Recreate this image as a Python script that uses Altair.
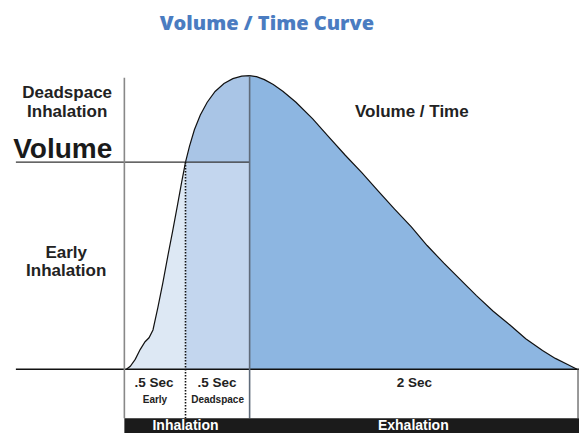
import altair as alt
import pandas as pd

# ---- curve (x position units, volume units) ----
early_x = [128, 132, 137, 142, 147, 151, 155, 160, 165, 170, 175, 180, 184, 188]
early_v = [0, 3, 10, 20, 28, 32, 40, 63, 88, 115, 141, 168, 190, 211]

dead_x = [188, 192, 197, 203, 210, 218, 227, 236, 245, 253]
dead_v = [211, 227, 244, 259, 272, 283, 291, 296, 298.5, 299]

exh_x = [253, 260, 268, 277, 287, 300, 317, 333, 350, 367, 383, 400, 417, 433,
         450, 467, 483, 500, 517, 533, 550, 563, 575, 585]
exh_v = [299, 298, 295, 290, 283, 272, 255, 237, 218, 200, 182, 163, 145, 126,
         108, 91, 75, 59, 45, 31, 19, 11, 5, 0]

deadspace_volume = 211
phase_bounds = [126, 188, 253, 586]   # start, end early, end deadspace, end exhalation

# ---- labels ----
left_labels = ["Deadspace", "Inhalation", "Early", "Inhalation"]
left_label_v = [276, 257, 113, 95]
sec_labels = [".5 Sec", ".5 Sec", "2 Sec"]
sec_x = [156, 220, 420]
sub_labels = ["Early", "Deadspace"]
sub_x = [157, 220.5]
phase_labels = ["Inhalation", "Exhalation"]
phase_x = [188, 419]

X = alt.Scale(domain=[8, 587], nice=False, zero=False)
Y = alt.Scale(domain=[-65, 368], nice=False, zero=False)


def xy(x="x", y="v"):
    return dict(x=alt.X(f"{x}:Q", scale=X, axis=None),
                y=alt.Y(f"{y}:Q", scale=Y, axis=None))


# fills
early_df = pd.DataFrame({"x": early_x, "v": early_v, "b": 0})
dead_df = pd.DataFrame({"x": dead_x, "v": dead_v, "b": deadspace_volume})
exh_df = pd.DataFrame({"x": exh_x, "v": exh_v, "b": 0})

early_area = alt.Chart(early_df).mark_area(color="#dde8f4").encode(**xy(), y2="b:Q")
dead_rect_df = pd.DataFrame({"x": [phase_bounds[1]], "x2": [phase_bounds[2]],
                             "v": [0], "v2": [deadspace_volume]})
dead_rect = alt.Chart(dead_rect_df).mark_rect(color="#c3d6ee").encode(
    **xy(), x2="x2:Q", y2="v2:Q")
dead_area = alt.Chart(dead_df).mark_area(color="#a9c5e6").encode(**xy(), y2="b:Q")
exh_area = alt.Chart(exh_df).mark_area(color="#8db6e1").encode(**xy(), y2="b:Q")

curve_df = pd.DataFrame({"x": early_x + dead_x[1:] + exh_x[1:],
                         "v": early_v + dead_v[1:] + exh_v[1:]})
curve = alt.Chart(curve_df).mark_line(color="#111", strokeWidth=1.2).encode(**xy())


def seg(rows, **style):
    df = pd.DataFrame(rows, columns=["x", "x2", "v", "v2"])
    return alt.Chart(df).mark_rule(**style).encode(**xy(), x2="x2:Q", y2="v2:Q")


baseline = seg([[16, 587, 0, 0]], color="#111", strokeWidth=1.5)
vol_line = seg([[16, 253, deadspace_volume, deadspace_volume]], color="#333", strokeWidth=1.2)
left_v = seg([[126, 126, 297, -50]], color="#888", strokeWidth=1.6)
mid_v = seg([[253, 253, 299, -50]], color="#5f6b7a", strokeWidth=1.6)
right_v = seg([[586, 586, 0, -50]], color="#555", strokeWidth=1.2)
dotted = seg([[188, 188, deadspace_volume, -50]], color="#111", strokeWidth=1.6,
             strokeDash=[1.5, 1.5])

bar_df = pd.DataFrame({"x": [126], "x2": [587], "v": [-50], "v2": [-66]})
bar = alt.Chart(bar_df).mark_rect(color="#1b1b1b").encode(**xy(), x2="x2:Q", y2="v2:Q")


def txt(df, **style):
    base = dict(font="Liberation Sans", fontWeight="bold", baseline="alphabetic",
                align="center")
    base.update(style)
    return alt.Chart(df).mark_text(**base).encode(**xy(), text="t:N")


title = txt(pd.DataFrame({"x": [270.5], "v": [346], "t": ["Volume / Time Curve"]}),
            font="Open Sans", fontWeight=800, fontSize=20, color="#4a7cc1")
left_txt = txt(pd.DataFrame({"x": [68, 68, 67, 67], "v": left_label_v, "t": left_labels}),
               fontSize=17, color="#222")
volume_txt = txt(pd.DataFrame({"x": [63.5], "v": [215], "t": ["Volume"]}),
                 fontSize=28, color="#1a1a1a")
vt_txt = txt(pd.DataFrame({"x": [417.5], "v": [257], "t": ["Volume / Time"]}),
             fontSize=17, color="#222")
sec_txt = txt(pd.DataFrame({"x": sec_x, "v": [-18] * 3, "t": sec_labels}),
              fontSize=13.5, color="#222")
sub_txt = txt(pd.DataFrame({"x": sub_x, "v": [-34] * 2, "t": sub_labels}),
              fontSize=10, color="#222")
phase_txt = txt(pd.DataFrame({"x": phase_x, "v": [-62] * 2, "t": phase_labels}),
                fontSize=14, color="white")

chart = alt.layer(
    early_area, dead_rect, dead_area, exh_area, curve,
    baseline, vol_line, left_v, mid_v, right_v, dotted, bar,
    title, left_txt, volume_txt, vt_txt, sec_txt, sub_txt, phase_txt,
).properties(
    width=571, height=425, padding=0,
    autosize=alt.AutoSizeParams(type="none"),
).configure_view(stroke=None)

chart.save("out.html", embed_options={"renderer": "svg", "actions": False})
